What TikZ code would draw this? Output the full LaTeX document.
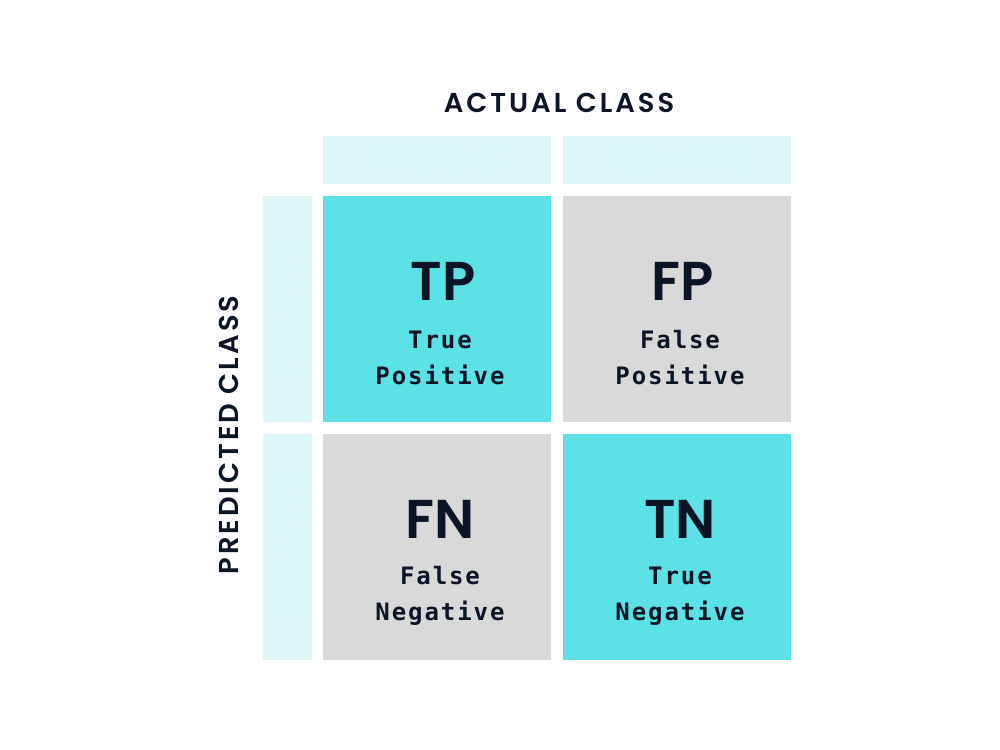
\documentclass[tikz,border=0pt]{standalone}
\usepackage{fontspec}
\setmainfont{Poppins}
\newfontfamily\headfont{Poppins SemiBold}[LetterSpace=11]
\newfontfamily\faintfont{Poppins}[LetterSpace=10]
\newfontfamily\bigfont{Poppins SemiBold}
\newfontfamily\monofont{DejaVu Sans Mono}[LetterSpace=8]
\definecolor{teal}{HTML}{5CE1E6}
\definecolor{grey}{HTML}{D9D9D9}
\definecolor{pale}{HTML}{DDF7F8}
\definecolor{faint}{HTML}{DBF6F7}
\definecolor{ink}{HTML}{0B1526}
\begin{document}
\begin{tikzpicture}[x=0.75pt,y=-0.75pt,
  cell/.style={minimum width=171pt,minimum height=169.5pt,inner sep=0pt,draw=none},
  hbox/.style={fill=pale,minimum width=171pt,minimum height=36pt,inner sep=0pt},
  vbox/.style={fill=pale,minimum width=36.75pt,minimum height=169.5pt,inner sep=0pt},
  faintlbl/.style={text=faint,font=\faintfont\fontsize{20}{24}\selectfont},
  axislbl/.style={text=ink,font=\headfont\fontsize{20.5}{24}\selectfont},
  abbr/.style={text=ink,font=\bigfont\fontsize{41}{48}\selectfont},
  desc/.style={text=ink,align=center,font=\monofont\bfseries\fontsize{18}{27}\selectfont}]
\fill[white] (0,0) rectangle (1000,750);
\useasboundingbox (0,0) rectangle (1000,750);
% header boxes
\node[hbox] (hpos) at (437,160) {};
\node[hbox] (hneg) at (677,160) {};
\node[faintlbl] at (hpos) {POSITIVE};
\node[faintlbl] at (hneg) {NEGATIVE};
% side boxes
\node[vbox] (vpos) at (287.5,309) {};
\node[vbox] (vneg) at (287.5,547) {};
\node[faintlbl,rotate=90] at (vpos) {POSITIVE};
\node[faintlbl,rotate=90] at (vneg) {NEGATIVE};
% axis labels
\node[axislbl] (actual) at (559,103) {ACTUAL CLASS};
\node[axislbl,rotate=90] (pred) at (229,435) {PREDICTED CLASS};
% cells
\node[cell,fill=teal] (tp) at (437,309) {};
\node[cell,fill=grey] (fp) at (677,309) {};
\node[cell,fill=grey] (fn) at (437,547) {};
\node[cell,fill=teal] (tn) at (677,547) {};
% texts
\node[abbr] (tpA) at (443,281) {TP};
\node[abbr] (fpA) at (683,281) {FP};
\node[abbr] (fnA) at (440,519) {FN};
\node[abbr] (tnA) at (680,519) {TN};
\node[desc] (tpD) at (440,358) {True\\Positive};
\node[desc] (fpD) at (680,358) {False\\Positive};
\node[desc] (fnD) at (440,596) {False\\Negative};
\node[desc] (tnD) at (680,596) {True\\Negative};
\end{tikzpicture}
\end{document}
